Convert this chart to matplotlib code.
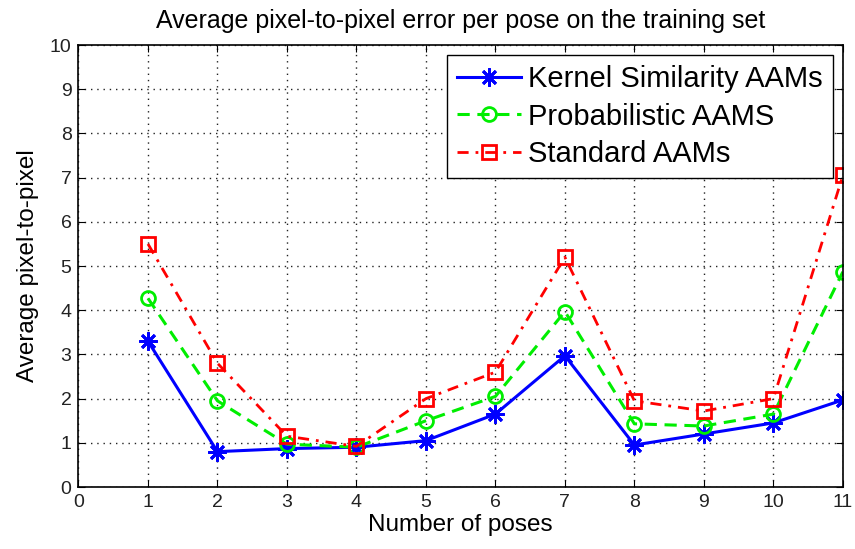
import matplotlib.pyplot as plt
import numpy as np

poses = [1, 2, 3, 4, 5, 6, 7, 8, 9, 10, 11]
kernel_sim = [3.3, 0.8, 0.87, 0.9, 1.05, 1.65, 2.97, 0.95, 1.2, 1.45, 1.97]
probabilistic = [4.27, 1.95, 0.97, 0.9, 1.5, 2.05, 3.97, 1.43, 1.38, 1.65, 4.87]
standard = [5.5, 2.8, 1.15, 0.92, 2.0, 2.6, 5.2, 1.95, 1.72, 2.0, 7.05]

plt.rcParams['font.family'] = ['Liberation Sans', 'DejaVu Sans']

fig = plt.figure(figsize=(8.55, 5.49), dpi=100)
ax = fig.add_axes([0.0918, 0.1129, 0.894, 0.805])

# asterisk like matlab '*'
ax.plot(poses, kernel_sim, color='blue', linestyle='-', linewidth=2.2,
        marker=(8, 2, 0), markersize=13, markeredgewidth=2,
        label='Kernel Similarity AAMs')
ax.plot(poses, probabilistic, color='#00ee00', linestyle=(0, (4, 2.5)), linewidth=2.2,
        marker='o', markersize=10, markerfacecolor='none', markeredgewidth=2,
        label='Probabilistic AAMS')
ax.plot(poses, standard, color='red', linestyle=(0, (4, 2.5, 1, 2.5)), linewidth=2,
        marker='s', markersize=10, markerfacecolor='none', markeredgewidth=2,
        label='Standard AAMs')

ax.set_xlim(0, 11)
ax.set_ylim(0, 10)
ax.set_xticks(np.arange(0, 12))
ax.set_yticks(np.arange(0, 11))
ax.tick_params(direction='in', top=True, right=True, labelsize=14, length=5,
               pad=5, labelcolor='#222222')
ax.grid(True, color='#222222', linestyle=(0, (1, 3.5)), linewidth=1)
for sp in ax.spines.values():
    sp.set_linewidth(1.2)

ax.set_title('Average pixel-to-pixel error per pose on the training set', fontsize=18, pad=12)
ax.set_xlabel('Number of poses', fontsize=17.5, labelpad=2)
ax.set_ylabel('Average pixel-to-pixel', fontsize=17.5, labelpad=8)

leg = ax.legend(loc='upper right', fontsize=21, fancybox=False, framealpha=1,
                edgecolor='black', handlelength=2.2, borderaxespad=0.33,
                borderpad=0.35, labelspacing=0.33, handletextpad=0.25)
leg.get_frame().set_linewidth(1.0)

fig.savefig('out.png', dpi=100)
